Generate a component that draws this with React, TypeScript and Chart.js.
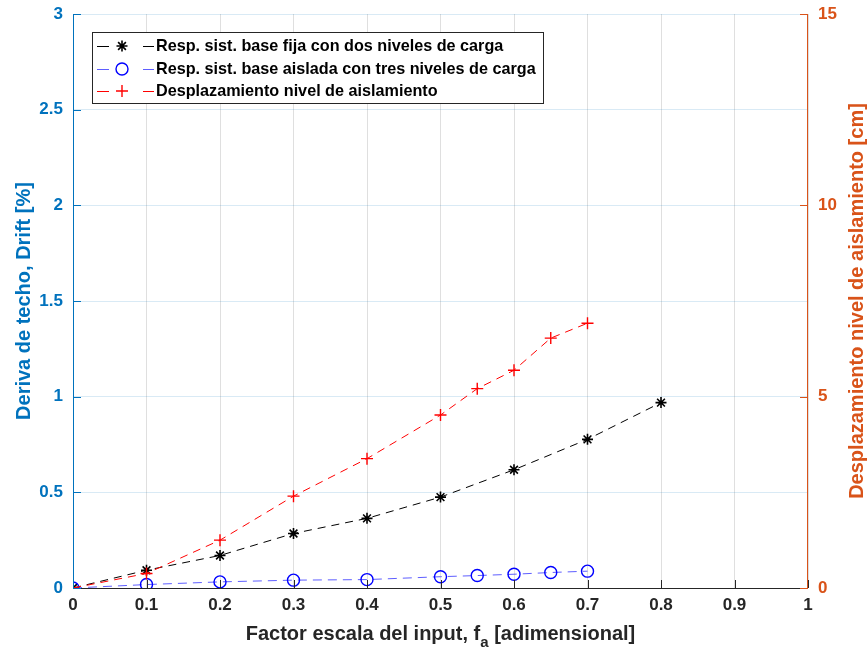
import React, { useEffect, useRef } from 'react';
import { Chart, registerables } from 'chart.js';

Chart.register(...registerables);

// ---- Data ----
const xFixed = [0, 0.1, 0.2, 0.3, 0.4, 0.5, 0.6, 0.7, 0.8];
const driftFixed = [0, 0.093, 0.17, 0.285, 0.364, 0.475, 0.618, 0.777, 0.969];

const xIsolated = [0, 0.1, 0.2, 0.3, 0.4, 0.5, 0.55, 0.6, 0.65, 0.7];
const driftIsolated = [0, 0.018, 0.032, 0.041, 0.044, 0.059, 0.065, 0.072, 0.081, 0.088];

const xDisplacement = [0, 0.1, 0.2, 0.3, 0.4, 0.5, 0.55, 0.6, 0.65, 0.7];
const displacementIsolation = [0, 0.38, 1.25, 2.4, 3.38, 4.52, 5.21, 5.69, 6.53, 6.92];

const xTicks = [0, 0.1, 0.2, 0.3, 0.4, 0.5, 0.6, 0.7, 0.8, 0.9, 1];
const leftTicks = [0, 0.5, 1, 1.5, 2, 2.5, 3];
const rightTicks = [0, 5, 10, 15];

const seriesLabels = [
  'Resp. sist. base fija con dos niveles de carga',
  'Resp. sist. base aislada con tres niveles de carga',
  'Desplazamiento nivel de aislamiento',
];

const xTitleMain = 'Factor escala del input, f';
const xTitleSub = 'a';
const xTitleEnd = ' [adimensional]';
const leftTitle = 'Deriva de techo, Drift [%]';
const rightTitle = 'Desplazamiento nivel de aislamiento [cm]';

const FONT = '"Liberation Sans", Arial, Helvetica, sans-serif';
const LEFT_COLOR = '#0072BD';
const RIGHT_COLOR = '#D95319';
const X_COLOR = '#262626';

const toPts = (xs: number[], ys: number[]) => xs.map((x, i) => ({ x, y: ys[i] }));
const fmt = (v: number) => String(Number(v.toFixed(3)));

function drawMarker(ctx: CanvasRenderingContext2D, style: string, x: number, y: number, r: number, color: string, lw: number) {
  ctx.save();
  ctx.strokeStyle = color;
  ctx.lineWidth = lw;
  ctx.setLineDash([]);
  ctx.beginPath();
  if (style === 'star') {
    ctx.moveTo(x - r, y); ctx.lineTo(x + r, y);
    ctx.moveTo(x, y - r); ctx.lineTo(x, y + r);
    const d = r * 0.707;
    ctx.moveTo(x - d, y - d); ctx.lineTo(x + d, y + d);
    ctx.moveTo(x - d, y + d); ctx.lineTo(x + d, y - d);
  } else if (style === 'circle') {
    ctx.arc(x, y, r, 0, Math.PI * 2);
  } else {
    ctx.moveTo(x - r, y); ctx.lineTo(x + r, y);
    ctx.moveTo(x, y - r); ctx.lineTo(x, y + r);
  }
  ctx.stroke();
  ctx.restore();
}

const decorPlugin = {
  id: 'decor',
  afterDraw(chart: any) {
    const ctx: CanvasRenderingContext2D = chart.ctx;
    const { left, right, top, bottom } = chart.chartArea;
    const xs = chart.scales.x;
    const yl = chart.scales.y;
    const yr = chart.scales.y1;
    const TL = 8;
    ctx.save();
    ctx.setLineDash([]);
    ctx.lineWidth = 1;
    // bottom axis
    ctx.strokeStyle = X_COLOR;
    ctx.beginPath();
    ctx.moveTo(left, Math.round(bottom) + 0.5);
    ctx.lineTo(right, Math.round(bottom) + 0.5);
    xTicks.forEach((v) => {
      const px = Math.round(xs.getPixelForValue(v)) + 0.5;
      ctx.moveTo(px, bottom);
      ctx.lineTo(px, bottom - TL);
    });
    ctx.stroke();
    // left axis
    ctx.strokeStyle = LEFT_COLOR;
    ctx.beginPath();
    ctx.moveTo(Math.round(left) + 0.5, top);
    ctx.lineTo(Math.round(left) + 0.5, bottom);
    leftTicks.forEach((v) => {
      const py = Math.round(yl.getPixelForValue(v)) + 0.5;
      ctx.moveTo(left, py);
      ctx.lineTo(left + TL, py);
    });
    ctx.stroke();
    // right axis
    ctx.strokeStyle = RIGHT_COLOR;
    ctx.beginPath();
    ctx.moveTo(Math.round(right) - 0.5, top);
    ctx.lineTo(Math.round(right) - 0.5, bottom);
    rightTicks.forEach((v) => {
      const py = Math.round(yr.getPixelForValue(v)) + 0.5;
      ctx.moveTo(right, py);
      ctx.lineTo(right - TL, py);
    });
    ctx.stroke();

    // right title, reading bottom-to-top
    ctx.save();
    ctx.translate(857, (top + bottom) / 2);
    ctx.rotate(-Math.PI / 2);
    ctx.fillStyle = RIGHT_COLOR;
    ctx.font = `bold 20px ${FONT}`;
    ctx.textAlign = 'center';
    ctx.textBaseline = 'middle';
    ctx.fillText(rightTitle, 0, 0);
    ctx.restore();

    // x title with subscript
    const mainFont = `bold 20px ${FONT}`;
    const subFont = `bold 15px ${FONT}`;
    ctx.font = mainFont;
    const w1 = ctx.measureText(xTitleMain).width;
    const w3 = ctx.measureText(xTitleEnd).width;
    ctx.font = subFont;
    const w2 = ctx.measureText(xTitleSub).width;
    const total = w1 + w2 + w3;
    const cx = (left + right) / 2;
    let tx = cx - total / 2;
    const base = 640;
    ctx.fillStyle = X_COLOR;
    ctx.textBaseline = 'alphabetic';
    ctx.textAlign = 'left';
    ctx.font = mainFont;
    ctx.fillText(xTitleMain, tx, base);
    tx += w1;
    ctx.font = subFont;
    ctx.fillText(xTitleSub, tx, base + 7);
    tx += w2;
    ctx.font = mainFont;
    ctx.fillText(xTitleEnd, tx, base);

    // legend
    const bx = 92.5, by = 32.5, bw = 451, bh = 71;
    ctx.fillStyle = '#ffffff';
    ctx.fillRect(bx, by, bw, bh);
    ctx.strokeStyle = X_COLOR;
    ctx.lineWidth = 1;
    ctx.strokeRect(bx, by, bw, bh);
    const rows = [46, 69, 91];
    const ds = chart.data.datasets;
    [0, 1, 2].forEach((di, i) => {
      const d = ds[di];
      const y = rows[i];
      ctx.save();
      ctx.strokeStyle = d.borderColor;
      ctx.lineWidth = 1;
      ctx.setLineDash([]);
      ctx.beginPath();
      ctx.moveTo(97, y + 0.5); ctx.lineTo(109, y + 0.5);
      ctx.moveTo(143, y + 0.5); ctx.lineTo(154, y + 0.5);
      ctx.stroke();
      ctx.restore();
      drawMarker(ctx, d.pointStyle, 122, y, d.pointRadius, d.pointBorderColor, d.pointBorderWidth);
      ctx.fillStyle = '#000000';
      ctx.font = `bold 16.2px ${FONT}`;
      ctx.textBaseline = 'middle';
      ctx.textAlign = 'left';
      ctx.fillText(d.label, 156, y + 1);
    });
    ctx.restore();
  },
};

export default function App() {
  const canvasRef = useRef<HTMLCanvasElement | null>(null);

  useEffect(() => {
    document.body.style.margin = '0';
    const canvas = canvasRef.current;
    if (!canvas) return;
    const chart = new Chart(canvas, {
      type: 'line',
      data: {
        datasets: [
          {
            label: seriesLabels[0],
            data: toPts(xFixed, driftFixed),
            yAxisID: 'y',
            borderColor: '#000000',
            borderWidth: 1,
            borderDash: [8, 6],
            pointStyle: 'star',
            pointRadius: 5.5,
            pointBorderColor: '#000000',
            pointBackgroundColor: 'rgba(0,0,0,0)',
            pointBorderWidth: 1.6,
            fill: false,
            tension: 0,
            order: 3,
          } as any,
          {
            label: seriesLabels[1],
            data: toPts(xIsolated, driftIsolated),
            yAxisID: 'y',
            borderColor: 'rgba(40,40,255,0.75)',
            borderWidth: 1,
            borderDash: [9, 6],
            pointStyle: 'circle',
            pointRadius: 6,
            pointBorderColor: '#0000ff',
            pointBackgroundColor: 'rgba(0,0,0,0)',
            pointBorderWidth: 1.4,
            fill: false,
            tension: 0,
            order: 2,
          } as any,
          {
            label: seriesLabels[2],
            data: toPts(xDisplacement, displacementIsolation),
            yAxisID: 'y1',
            borderColor: '#ff0000',
            borderWidth: 1,
            borderDash: [8, 6],
            pointStyle: 'cross',
            pointRadius: 6,
            pointBorderColor: '#ff0000',
            pointBackgroundColor: 'rgba(0,0,0,0)',
            pointBorderWidth: 1.4,
            fill: false,
            tension: 0,
            order: 1,
          } as any,
        ],
      },
      options: {
        responsive: false,
        animation: false,
        events: [],
        layout: { padding: { top: 14, left: 0, right: 0, bottom: 0 } },
        plugins: {
          legend: { display: false },
          tooltip: { enabled: false },
          title: { display: false },
        },
        scales: {
          x: {
            type: 'linear',
            min: 0,
            max: 1,
            afterBuildTicks: (s: any) => { s.ticks = xTicks.map((v) => ({ value: v })); },
            afterFit: (s: any) => { s.height = 62; },
            ticks: {
              color: X_COLOR,
              font: { family: FONT, size: 17, weight: 'bold' },
              padding: 7,
              maxRotation: 0,
              autoSkip: false,
              callback: (v: any) => fmt(Number(v)),
            },
            grid: { color: 'rgba(38,38,38,0.15)', drawTicks: false },
            border: { display: false },
          },
          y: {
            type: 'linear',
            position: 'left',
            min: 0,
            max: 3,
            afterBuildTicks: (s: any) => { s.ticks = leftTicks.map((v) => ({ value: v })); },
            afterFit: (s: any) => { s.width = 73; s.paddingTop = 0; s.paddingBottom = 0; },
            ticks: {
              color: LEFT_COLOR,
              font: { family: FONT, size: 17, weight: 'bold' },
              padding: 10,
              autoSkip: false,
              callback: (v: any) => fmt(Number(v)),
            },
            grid: { color: 'rgba(0,114,189,0.15)', drawTicks: false },
            border: { display: false },
            title: {
              display: true,
              text: leftTitle,
              color: LEFT_COLOR,
              font: { family: FONT, size: 20, weight: 'bold' },
              padding: { top: 12, bottom: 0 },
            },
          },
          y1: {
            type: 'linear',
            position: 'right',
            min: 0,
            max: 15,
            afterBuildTicks: (s: any) => { s.ticks = rightTicks.map((v) => ({ value: v })); },
            afterFit: (s: any) => { s.width = 59; s.paddingTop = 0; s.paddingBottom = 0; },
            ticks: {
              color: RIGHT_COLOR,
              font: { family: FONT, size: 17, weight: 'bold' },
              padding: 10,
              autoSkip: false,
              callback: (v: any) => fmt(Number(v)),
            },
            grid: { display: false, drawTicks: false },
            border: { display: false },
            title: { display: false },
          },
        },
      } as any,
      plugins: [decorPlugin],
    });
    return () => chart.destroy();
  }, []);

  return (
    <div style={{ width: 867, height: 650, position: 'relative', background: '#ffffff' }}>
      <canvas ref={canvasRef} width={867} height={650} style={{ display: 'block' }} />
    </div>
  );
}
